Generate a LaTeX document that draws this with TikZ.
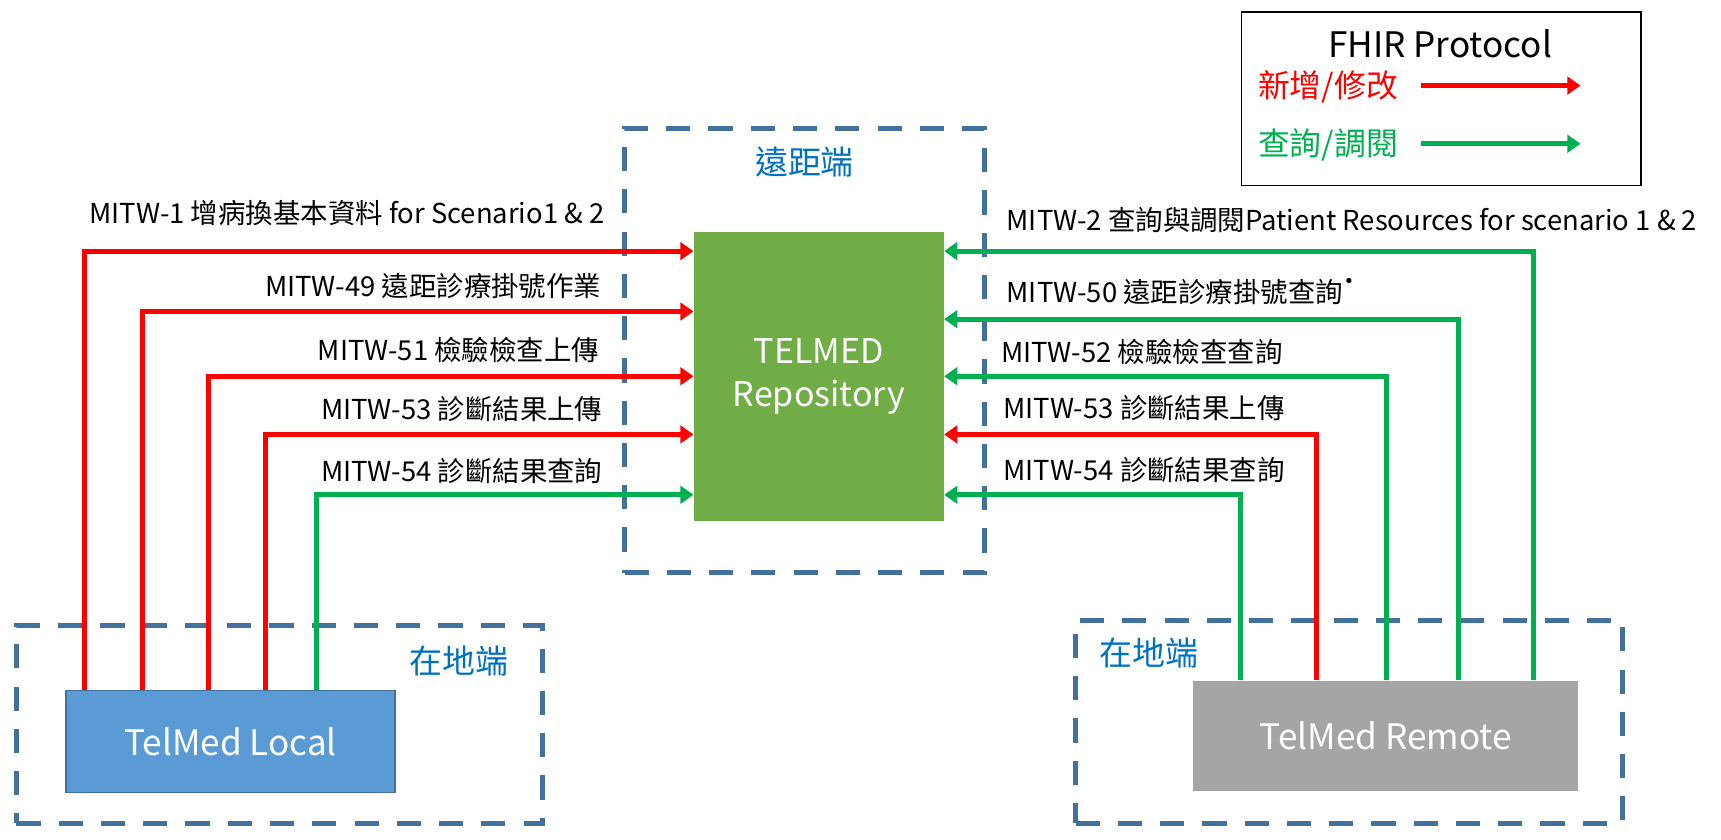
\documentclass[tikz,border=0pt]{standalone}
\usepackage{fontspec}
\setmainfont{Noto Sans CJK TC}
\usetikzlibrary{arrows.meta}
\definecolor{framec}{HTML}{41719C}
\definecolor{repgreen}{HTML}{70AD47}
\definecolor{readc}{HTML}{00B050}
\definecolor{sidec}{HTML}{0070C0}
\definecolor{localc}{HTML}{5B9BD5}
\definecolor{remotec}{HTML}{A5A5A5}
\tikzstyle{zone}=[rectangle, draw=framec, line width=4.5pt, dash pattern=on 22pt off 16.5pt, inner sep=0pt]
\tikzstyle{sys}=[rectangle, inner sep=0pt, text=white, align=center, font=\fontsize{32}{40}\selectfont]
\tikzstyle{zonename}=[text=sidec, font=\fontsize{30}{36}\selectfont]
\tikzstyle{msg}=[inner sep=0pt, font=\fontsize{25}{29}\selectfont]
\tikzstyle{writeflow}=[draw=red, line width=4.5pt, -{Triangle[length=12pt,width=16pt]}]
\tikzstyle{readflow}=[draw=readc, line width=4.5pt, -{Triangle[length=12pt,width=16pt]}]
\begin{document}
\begin{tikzpicture}[x=1pt,y=-1pt]
	\useasboundingbox (0,0) rectangle (1568,764.5);

	\node[zone, minimum width=328pt, minimum height=405pt](remotezone) at (733,319.5){};
	\node[zone, minimum width=479pt, minimum height=180pt](localzone) at (254.5,660){};
	\node[zone, minimum width=498pt, minimum height=185pt](sitezone) at (1229,657.5){};
	\node[zonename](remotename) at (733,148){遠距端};
	\node[zonename](localname) at (418,602){在地端};
	\node[zonename](sitename) at (1047,595){在地端};

	\node[sys, fill=repgreen, minimum width=228pt, minimum height=264pt, font=\fontsize{31}{40}\selectfont](repo) at (746,343){TELMED\\Repository};
	\node[sys, fill=localc, draw=framec, line width=1.5pt, minimum width=300pt, minimum height=93pt](local) at (210,675.5){TelMed Local};
	\node[sys, fill=remotec, minimum width=351pt, minimum height=101pt](remote) at (1262.5,670.5){TelMed Remote};

	\node[rectangle, draw=black, line width=1.2pt, minimum width=364pt, minimum height=158pt](legend) at (1313,90){};
	\node[inner sep=0pt, font=\fontsize{32}{38}\selectfont](legendtitle) at (1312,40){FHIR Protocol};
	\node[inner sep=0pt, anchor=west, text=red, font=\fontsize{29}{34}\selectfont](addtxt) at (1146,79){新增/修改};
	\node[inner sep=0pt, anchor=west, text=readc, font=\fontsize{29}{34}\selectfont](readtxt) at (1146,132){查詢/調閱};
	\coordinate (add0) at (1295,78);
	\coordinate (add1) at (1440,78);
	\coordinate (read0) at (1295,131);
	\coordinate (read1) at (1440,131);
	\draw[writeflow] (add0) -- (add1);
	\draw[readflow] (read0) -- (read1);

	\draw[writeflow] ([xshift=18]local.north west) |- ([yshift=-18]repo.north west);
	\draw[writeflow] ([xshift=71]local.north west) |- ([yshift=-73]repo.north west);
	\draw[writeflow] ([xshift=131]local.north west) |- ([yshift=-132]repo.north west);
	\draw[writeflow] ([xshift=183]local.north west) |- ([yshift=-185]repo.north west);
	\draw[readflow] ([xshift=229]local.north west) |- ([yshift=-240]repo.north west);

	\node[msg, anchor=east](l1) at (551,194){MITW-1 增病換基本資料 for Scenario1 \& 2};
	\node[msg, anchor=east](l49) at (548,261){MITW-49 遠距診療掛號作業};
	\node[msg, anchor=east](l51) at (546,319){MITW-51 檢驗檢查上傳};
	\node[msg, anchor=east](l53) at (549,373){MITW-53 診斷結果上傳};
	\node[msg, anchor=east](l54) at (549,429){MITW-54 診斷結果查詢};

	\draw[readflow] ([xshift=310]remote.north west) |- ([yshift=-18]repo.north east);
	\draw[readflow] ([xshift=242]remote.north west) |- ([yshift=-80]repo.north east);
	\draw[readflow] ([xshift=176]remote.north west) |- ([yshift=-132]repo.north east);
	\draw[writeflow] ([xshift=113]remote.north west) |- ([yshift=-185]repo.north east);
	\draw[readflow] ([xshift=43]remote.north west) |- ([yshift=-240]repo.north east);

	\node[msg, anchor=west](r2) at (917,200){MITW-2 查詢與調閱Patient Resources for scenario 1 \& 2};
	\node[msg, anchor=west](r50) at (917,266){MITW-50 遠距診療掛號查詢\raisebox{0.4em}{˙}};
	\node[msg, anchor=west](r52) at (912,321){MITW-52 檢驗檢查查詢};
	\node[msg, anchor=west](r53) at (914,372){MITW-53 診斷結果上傳};
	\node[msg, anchor=west](r54) at (914,428){MITW-54 診斷結果查詢};

\end{tikzpicture}
\end{document}
